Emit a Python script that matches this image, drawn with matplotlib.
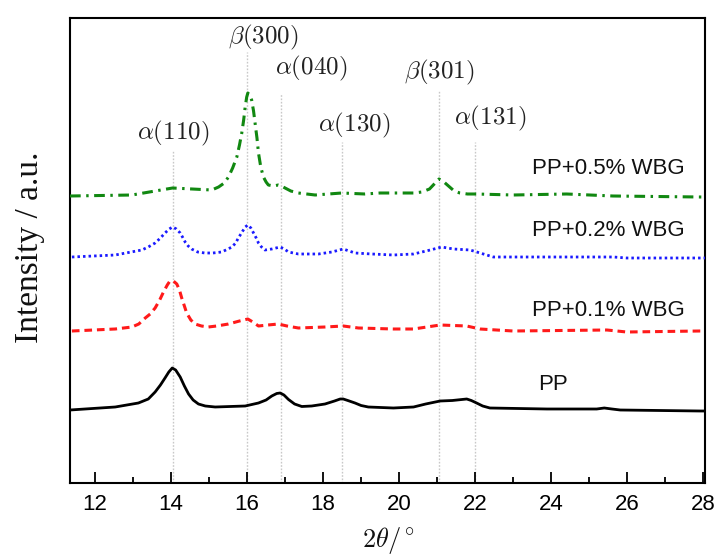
import matplotlib
matplotlib.use("Agg")
import matplotlib.pyplot as plt

plt.rcParams['mathtext.fontset'] = 'cm'

# ---- data (intensity in arbitrary units, offsets included) ----
pp_x = [11.34, 12.53, 13.14, 13.4, 13.58, 13.72, 13.84, 13.94, 14.03, 14.12, 14.24, 14.35,
        14.46, 14.58, 14.72, 14.9, 15.16, 15.95, 16.3, 16.5, 16.65, 16.78, 16.87, 16.97,
        17.09, 17.25, 17.44, 17.7, 18.05, 18.3, 18.45, 18.53, 18.65, 18.84, 19.0, 19.19,
        19.85, 20.38, 20.7, 21.08, 21.4, 21.78, 21.9, 22.04, 22.2, 22.39, 23.89, 25.2,
        25.4, 25.6, 25.82, 27.92, 28.05]
pp_y = [73, 76, 80, 84, 91, 98, 105, 111, 115, 113, 106, 97,
        89, 83, 79, 77, 76, 77, 80, 83, 87, 89.5, 90, 88,
        83.5, 79, 76.5, 77, 79, 82, 84, 84, 82.5, 80, 77.5, 76,
        75, 76, 79, 82, 82.5, 84, 82.5, 80, 77, 75, 74, 74,
        75, 74, 73, 72, 72]

wbg01_x = [11.39, 12.53, 12.97, 13.15, 13.32, 13.45, 13.58, 13.7, 13.8, 13.9, 13.97, 14.06,
           14.15, 14.22, 14.28, 14.35, 14.41, 14.52, 14.63, 14.8, 14.98, 15.2, 15.51, 15.8,
           16.02, 16.15, 16.3, 16.55, 16.82, 17.05, 17.35, 18.05, 18.53, 18.93, 19.85, 20.38,
           21.08, 21.78, 22.13, 23.0, 25.47, 25.99, 27.92, 28.05]
wbg01_y = [152, 154, 156, 159, 165, 169, 175, 183, 191, 198, 202, 202,
           199, 193, 185, 177, 170, 163, 159, 157, 156, 157, 159, 162,
           164, 161, 157, 158, 159, 157, 155, 156, 157, 155, 154, 154,
           158, 157, 154, 152, 153, 151, 152, 152]

wbg02_x = [11.39, 12.53, 13.23, 13.4, 13.58, 13.72, 13.84, 13.95, 14.04, 14.14, 14.24, 14.3,
           14.37, 14.45, 14.54, 14.7, 14.89, 15.1, 15.33, 15.5, 15.6, 15.7, 15.77, 15.87,
           15.95, 16.02, 16.1, 16.17, 16.24, 16.3, 16.38, 16.47, 16.65, 16.87, 16.98, 17.09,
           17.35, 17.88, 18.23, 18.53, 18.84, 19.28, 19.85, 20.38, 20.82, 21.12, 21.43, 21.87,
           22.13, 22.48, 23.89, 25.64, 25.99, 27.92, 28.05]
wbg02_y = [226, 228, 233, 236, 240, 245, 250, 254, 256, 254, 250, 246,
           241, 237, 234, 231, 230, 230, 231, 234, 236, 240, 245, 251,
           256, 258, 255, 250, 245, 240, 236, 233, 234, 236, 234, 231,
           229, 229, 231, 234, 230, 229, 228, 229, 233, 236, 234, 233,
           230, 226, 226, 226, 225, 225, 225]

wbg05_x = [11.34, 12.97, 14.04, 15.07, 15.25, 15.4, 15.51, 15.62, 15.73, 15.8, 15.86, 15.91,
           15.95, 15.99, 16.02, 16.07, 16.12, 16.17, 16.21, 16.26, 16.3, 16.36, 16.43, 16.5,
           16.56, 16.7, 16.82, 16.9, 17.0, 17.15, 17.35, 17.79, 18.49, 19.1, 19.5, 20.38,
           20.6, 20.8, 20.95, 21.05, 21.15, 21.3, 21.45, 21.6, 21.8, 22.03, 23.0,
           24.41, 25.63, 27.92, 28.05]
wbg05_y = [287, 288, 295, 293, 296, 300, 306, 315, 326, 338, 350, 363,
           376, 386, 390, 388, 383, 372, 360, 345, 330, 316, 306, 301,
           298, 297, 298, 297, 295, 292, 290, 288, 290, 289, 290, 290,
           291, 294, 300, 304, 302, 297, 292, 290, 289, 289, 288,
           289, 287, 286, 286]

series_labels = ['PP', 'PP+0.1% WBG', 'PP+0.2% WBG', 'PP+0.5% WBG']

peak_pos = [14.05, 16.0, 16.9, 18.5, 21.05, 22.0]
peak_labels = [r'$\alpha(110)$', r'$\beta(300)$', r'$\alpha(040)$',
               r'$\alpha(130)$', r'$\beta(301)$', r'$\alpha(131)$']
peak_line_top = [333, 431, 390, 341, 393, 341]
peak_label_x = [14.05, 16.42, 17.70, 18.82, 21.05, 22.39]
peak_label_y = [350, 446, 415, 358, 411, 365]

xticks = [12, 14, 16, 18, 20, 22, 24, 26, 28]

# ---- figure ----
fig = plt.figure(figsize=(7.2, 5.58), dpi=100)
ax = fig.add_axes([70/720, 75/558, 635/720, 465/558])

for xp, top in zip(peak_pos, peak_line_top):
    ax.plot([xp, xp], [0, top], color='#c8c8c8', lw=1.0, ls=(0, (1.2, 1.2)), zorder=1)

ax.plot(pp_x, pp_y, color='black', lw=2.0, zorder=3)
ax.plot(wbg01_x, wbg01_y, color='#ff1a1a', lw=2.2, ls=(0, (2.5, 1.6)), zorder=3)
ax.plot(wbg02_x, wbg02_y, color='#1a1aff', lw=2.0, ls=(0, (0.9, 1.1)), zorder=3)
ax.plot(wbg05_x, wbg05_y, color='#118811', lw=2.2, ls=(0, (3.5, 1.8, 0.8, 1.8)), zorder=3)

for lx, ly, t in zip(peak_label_x, peak_label_y, peak_labels):
    ax.text(lx, ly, t, fontsize=18, ha='center', va='center', color='#222222')

lab_font = dict(fontsize=16, family='Liberation Sans', color='#111111', va='center', ha='left')
ax.text(23.66, 98, series_labels[0], **lab_font)
ax.text(23.49, 173, series_labels[1], **lab_font)
ax.text(23.49, 253, series_labels[2], **lab_font)
ax.text(23.49, 315, series_labels[3], **lab_font)

ax.set_xlim(11.34, 28.05)
ax.set_ylim(0, 465)
ax.set_xticks(xticks)
ax.set_xticks([13, 15, 17, 19, 21, 23, 25, 27], minor=True)
ax.set_yticks([])
ax.tick_params(axis='x', which='major', direction='in', length=8, width=1.3, pad=8,
               labelsize=16)
ax.tick_params(axis='x', which='minor', direction='in', length=4, width=1.3)
for lbl in ax.get_xticklabels():
    lbl.set_fontfamily('Liberation Sans')
for s in ax.spines.values():
    s.set_linewidth(1.5)

fig.text(30/720, 1 - 247/558, 'Intensity / a.u.', rotation=90, ha='center', va='center',
         fontsize=24, family='Liberation Serif', color='#111111')
fig.text(388/720, 1 - 540/558, r'$2\theta/^{\circ}$', ha='center', va='center', fontsize=19,
         color='#111111')

fig.savefig('out.png', dpi=100)
